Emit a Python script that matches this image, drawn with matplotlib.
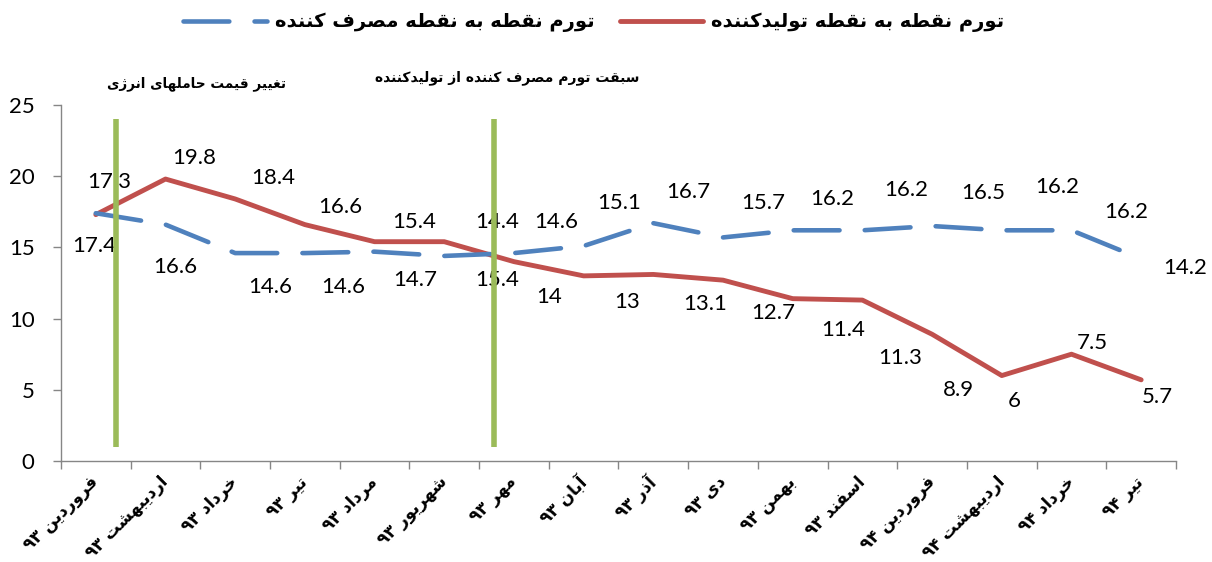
import re
import matplotlib
matplotlib.use('Agg')
import matplotlib.pyplot as plt
import matplotlib.transforms as mtransforms
import numpy as np

# داده ها
months = ['فروردین ۹۳', 'اردیبهشت ۹۳', 'خرداد ۹۳', 'تیر ۹۳', 'مرداد ۹۳', 'شهریور ۹۳',
          'مهر ۹۳', 'آبان ۹۳', 'آذر ۹۳', 'دی ۹۳', 'بهمن ۹۳', 'اسفند ۹۳',
          'فروردین ۹۴', 'اردیبهشت ۹۴', 'خرداد ۹۴', 'تیر ۹۴']
producer = [17.3, 19.8, 18.4, 16.6, 15.4, 15.4, 14, 13, 13.1, 12.7, 11.4, 11.3, 8.9, 6, 7.5, 5.7]
consumer = [17.4, 16.6, 14.6, 14.6, 14.7, 14.4, 14.6, 15.1, 16.7, 15.7, 16.2, 16.2, 16.5, 16.2, 16.2, 14.2]
producer_name = 'تورم نقطه به نقطه تولیدکننده'
consumer_name = 'تورم نقطه به نقطه مصرف کننده'
event_x = [0.29, 5.71]
event_text = ['تغییر قیمت حاملهای انرژی', 'سبقت تورم مصرف کننده از تولیدکننده']

# جای برچسب ها نسبت به نقطه (پیکسل)
producer_off = [(13, 33), (29, 21), (38, 21), (35, 18), (40, 20), (53, -38), (35, -35), (43, -26),
                (52, -30), (50, -33), (50, -31), (38, -58), (26, -56), (12, -25), (21, 11), (16, -17)]
consumer_off = [(-2, -33), (10, -42), (35, -34), (38, -34), (41, -28), (53, 34), (42, 31), (36, 43),
                (35, 31), (40, 34), (39, 31), (44, 40), (51, 33), (55, 43), (55, 18), (44, -9)]

# شکل دهی حروف فارسی (matplotlib خودش انجام نمی دهد)
FORMS = {
    'ا': (0xFE8D, 0xFE8E, None, None), 'آ': (0xFE81, 0xFE82, None, None),
    'ب': (0xFE8F, 0xFE90, 0xFE91, 0xFE92), 'پ': (0xFB56, 0xFB57, 0xFB58, 0xFB59),
    'ت': (0xFE95, 0xFE96, 0xFE97, 0xFE98), 'ث': (0xFE99, 0xFE9A, 0xFE9B, 0xFE9C),
    'ج': (0xFE9D, 0xFE9E, 0xFE9F, 0xFEA0), 'چ': (0xFB7A, 0xFB7B, 0xFB7C, 0xFB7D),
    'ح': (0xFEA1, 0xFEA2, 0xFEA3, 0xFEA4), 'خ': (0xFEA5, 0xFEA6, 0xFEA7, 0xFEA8),
    'د': (0xFEA9, 0xFEAA, None, None), 'ذ': (0xFEAB, 0xFEAC, None, None),
    'ر': (0xFEAD, 0xFEAE, None, None), 'ز': (0xFEAF, 0xFEB0, None, None),
    'ژ': (0xFB8A, 0xFB8B, None, None),
    'س': (0xFEB1, 0xFEB2, 0xFEB3, 0xFEB4), 'ش': (0xFEB5, 0xFEB6, 0xFEB7, 0xFEB8),
    'ص': (0xFEB9, 0xFEBA, 0xFEBB, 0xFEBC), 'ض': (0xFEBD, 0xFEBE, 0xFEBF, 0xFEC0),
    'ط': (0xFEC1, 0xFEC2, 0xFEC3, 0xFEC4), 'ظ': (0xFEC5, 0xFEC6, 0xFEC7, 0xFEC8),
    'ع': (0xFEC9, 0xFECA, 0xFECB, 0xFECC), 'غ': (0xFECD, 0xFECE, 0xFECF, 0xFED0),
    'ف': (0xFED1, 0xFED2, 0xFED3, 0xFED4), 'ق': (0xFED5, 0xFED6, 0xFED7, 0xFED8),
    'ک': (0xFB8E, 0xFB8F, 0xFB90, 0xFB91), 'گ': (0xFB92, 0xFB93, 0xFB94, 0xFB95),
    'ل': (0xFEDD, 0xFEDE, 0xFEDF, 0xFEE0), 'م': (0xFEE1, 0xFEE2, 0xFEE3, 0xFEE4),
    'ن': (0xFEE5, 0xFEE6, 0xFEE7, 0xFEE8), 'ه': (0xFEE9, 0xFEEA, 0xFEEB, 0xFEEC),
    'و': (0xFEED, 0xFEEE, None, None), 'ی': (0xFBFC, 0xFBFD, 0xFBFE, 0xFBFF),
}


def fa(text):
    out = []
    for i, ch in enumerate(text):
        if ch not in FORMS:
            out.append(ch)
            continue
        iso, fin, ini, med = FORMS[ch]
        prev = text[i - 1] if i > 0 else ''
        nxt = text[i + 1] if i + 1 < len(text) else ''
        jp = prev in FORMS and FORMS[prev][2] is not None
        jn = nxt in FORMS and ini is not None
        code = med if (jp and jn) else fin if jp else ini if jn else iso
        out.append(chr(code))
    tokens = re.findall(r'[0-9۰-۹.]+|.', ''.join(out))
    return ''.join(reversed(tokens))


plt.rcParams['font.family'] = ['Lato', 'DejaVu Sans']
FA = dict(family='DejaVu Sans', weight='bold')

fig = plt.figure(figsize=(12.12, 5.62), dpi=100)
ax = fig.add_axes([0.0503, 0.1797, 0.92, 0.6335])
x = np.arange(len(months))

l_prod, = ax.plot(x, producer, color='#C0504D', lw=3.5, solid_capstyle='round',
                  solid_joinstyle='round', label=fa(producer_name), zorder=3)
l_cons, = ax.plot(x, consumer, color='#4F81BD', lw=3.3, dashes=(10, 5.5),
                  dash_capstyle='round', label=fa(consumer_name), zorder=3)

for xi, v, off in zip(x, producer, producer_off):
    ax.annotate(f'{v:g}', (xi, v), xytext=off, textcoords='offset pixels',
                ha='center', va='center', fontsize=16, family='Lato', zorder=4)
for xi, v, off in zip(x, consumer, consumer_off):
    ax.annotate(f'{v:g}', (xi, v), xytext=off, textcoords='offset pixels',
                ha='center', va='center', fontsize=16, family='Lato', zorder=4)

# خطوط رویداد
for ex in event_x:
    ax.plot([ex, ex], [1, 24], color='#9BBB59', lw=4, solid_capstyle='butt', zorder=5)
ax.text(1.45, 26.5, fa(event_text[0]), ha='center', va='center', fontsize=9.8,
        clip_on=False, **FA)
ax.text(5.9, 26.9, fa(event_text[1]), ha='center', va='center', fontsize=10,
        clip_on=False, **FA)

ax.set_xlim(-0.5, 15.5)
ax.set_ylim(0, 25)
ax.set_yticks(range(0, 26, 5))
ax.set_xticks(x)
ax.set_xticks(np.arange(-0.5, 16, 1), minor=True)
ax.set_xticklabels([fa(m) for m in months], rotation=45, ha='right', va='center',
                   rotation_mode='anchor', fontsize=12, **FA)
shift = mtransforms.ScaledTranslation(5 / 100, 0, fig.dpi_scale_trans)
for lbl in ax.get_xticklabels():
    lbl.set_transform(lbl.get_transform() + shift)
ax.tick_params(axis='x', which='major', length=0, pad=13)
ax.tick_params(axis='x', which='minor', length=6, width=1, color='#868686')
ax.tick_params(axis='y', length=6, width=1, color='#868686', pad=13, labelsize=16)
for s in ['top', 'right']:
    ax.spines[s].set_visible(False)
for s in ['left', 'bottom']:
    ax.spines[s].set_color('#868686')
    ax.spines[s].set_linewidth(1)

fig.legend(handles=[l_cons, l_prod], loc='center', bbox_to_anchor=(0.49, 0.96), ncol=2,
           frameon=False, prop=dict(size=14, **FA), handlelength=4.3, columnspacing=1.3,
           handletextpad=0.4)

fig.savefig('out.png', dpi=100)
